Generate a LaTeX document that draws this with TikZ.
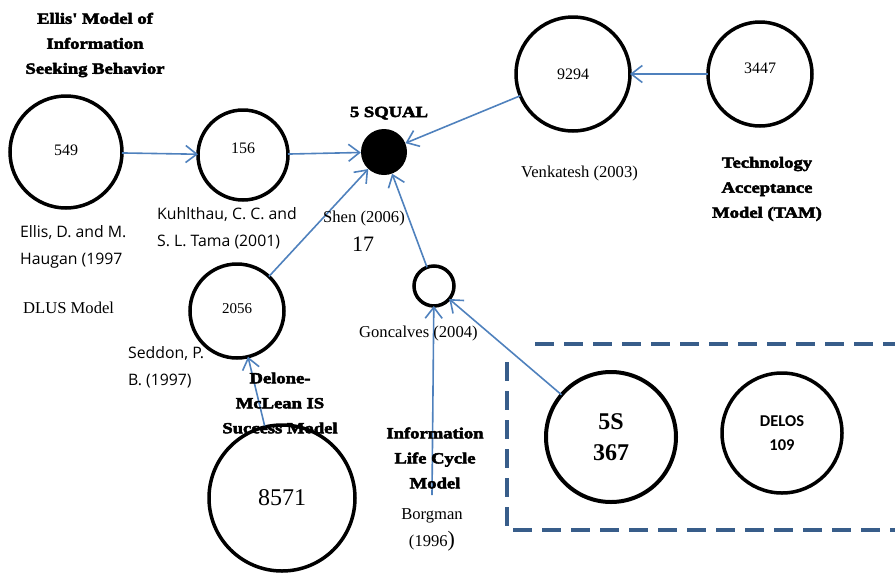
\documentclass[tikz,border=0pt]{standalone}
\usepackage{fontspec}
\setmainfont{Liberation Serif}
\newfontfamily\sansfont{Open Sans}
\newfontfamily\calfont{Carlito}
\newfontfamily\heavyfont[FakeBold=3.2,FakeStretch=1.2]{Liberation Serif Bold}
\usetikzlibrary{arrows.meta}

\newlength{\du}
\setlength{\du}{1pt}

\begin{document}
\begin{tikzpicture}[
  bubble/.style={circle,draw=black,line width=3.5\du,inner sep=0pt,outer sep=0pt,font=\fontsize{16}{18}\selectfont},
  link/.style={draw=linkblue,line width=1.6\du,-{Straight Barb[length=11pt,width=17pt]}},
  heading/.style={align=center,inner sep=0pt,font=\heavyfont\fontsize{15.5}{25}\selectfont},
  cite/.style={anchor=base west,inner sep=0pt,font=\fontsize{16.6}{27}\selectfont},
  sanscite/.style={anchor=west,align=left,inner sep=0pt,font=\sansfont\fontsize{15.8}{27}\selectfont}]
\pgftransformxscale{1.000000}
\pgftransformyscale{-1.000000}
\definecolor{linkblue}{rgb}{0.310000, 0.506000, 0.741000}
\definecolor{boxblue}{rgb}{0.220000, 0.365000, 0.541000}
\useasboundingbox (0\du,0\du) rectangle (895\du,579\du);

% circles
\node[bubble,minimum size=112\du] (c549) at (66\du,152\du) {\raisebox{3\du}{549}};
\node[bubble,minimum size=90\du] (c156) at (243\du,155\du) {\raisebox{13\du}{156}};
\node[circle,fill=black,inner sep=0pt,minimum size=46\du] (squal) at (384\du,152\du) {};
\node[bubble,minimum size=114\du] (c9294) at (573\du,74\du) {9294};
\node[bubble,minimum size=104\du] (c3447) at (760\du,74\du) {\raisebox{11\du}{3447}};
\node[bubble,minimum size=94\du,font=\fontsize{15}{17}\selectfont] (c2056) at (237\du,311\du) {\raisebox{4\du}{2056}};
\node[bubble,minimum size=40\du] (glc) at (434\du,286\du) {};
\node[bubble,minimum size=146\du,font=\fontsize{24}{26}\selectfont] (c8571) at (282\du,498\du) {8571};
\node[bubble,line width=4\du,minimum size=130\du,align=center,font=\bfseries\fontsize{24}{31}\selectfont] (c5s) at (611\du,437\du) {5S\\367};
\node[bubble,minimum size=120\du,align=center,font=\calfont\bfseries\fontsize{16.5}{24}\selectfont] (delos) at (782\du,433\du) {DELOS\\109};
\coordinate (ilc) at (432\du,495\du);

% dashed frame
\draw[boxblue,line width=4\du,dash pattern=on 19pt off 10pt] (507\du,362\du)--(507\du,530\du)--(900\du,530\du);
\draw[boxblue,line width=4\du,dash pattern=on 19pt off 10pt] (535\du,344\du)--(900\du,344\du);

% connectors
\draw[link] (c549) -- (c156);
\draw[link] (c156) -- (squal);
\draw[link] (c9294) -- (squal);
\draw[link] (c3447) -- (c9294);
\draw[link] (c2056) -- (squal);
\draw[link] (glc) -- (squal);
\draw[link] (c8571) -- (c2056);
\draw[link] (ilc) -- (glc);
\draw[link] (c5s) -- (glc);

% model names
\node[heading] (hellis) at (95\du,45\du) {Ellis' Model of\\Information\\Seeking Behavior};
\node[heading,anchor=base] (hsqual) at (389\du,117\du) {5 SQUAL};
\node[heading] (htam) at (767\du,189\du) {Technology\\Acceptance\\Model (TAM)};
\node[heading] (hdelone) at (280\du,403\du) {Delone-\\McLean IS\\Success Model};
\node[heading] (hilc) at (435\du,458\du) {Information\\Life Cycle\\Model};

% citations
\node[sanscite] (tkuhl) at (157\du,228\du) {Kuhlthau, C. C. and\\S. L. Tama (2001)};
\node[sanscite] (tellis) at (20\du,247\du) {Ellis, D. and M.\\Haugan (1997};
\node[sanscite] (tseddon) at (128\du,367\du) {Seddon, P.\\B. (1997)};
\node[cite] (tdlus) at (23\du,313\du) {DLUS Model};
\node[cite] (tshen) at (323\du,222\du) {Shen (2006)};
\node[cite,anchor=base,font=\fontsize{22}{24}\selectfont] (tshennum) at (363\du,251\du) {17};
\node[cite] (tgonc) at (359\du,337\du) {Goncalves (2004)};
\node[cite] (tvenk) at (521\du,177\du) {Venkatesh (2003)};
\node[cite,anchor=center,align=center] (tborg) at (432\du,530\du) {Borgman\\(1996{\fontsize{22}{22}\selectfont)}};
\end{tikzpicture}
\end{document}
